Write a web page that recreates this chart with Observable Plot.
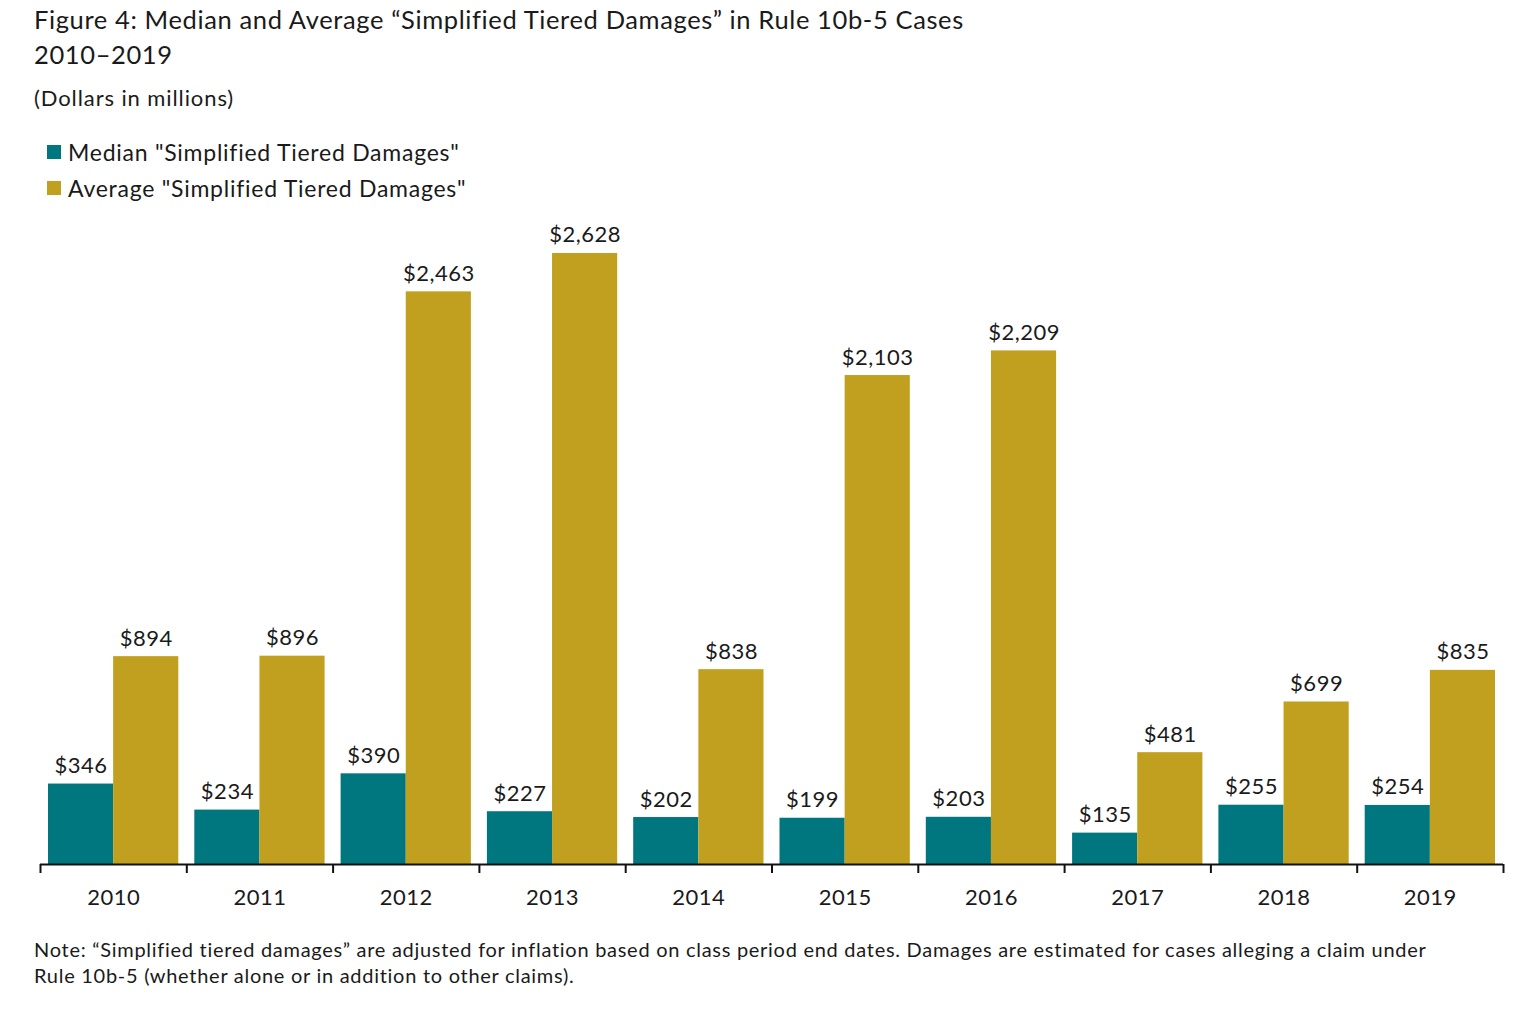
<!DOCTYPE html>
<html>
<head>
<meta charset="utf-8">
<script src="https://cdn.jsdelivr.net/npm/d3@7"></script>
<script src="https://cdn.jsdelivr.net/npm/@observablehq/plot@0.6"></script>
<style>
  body { margin: 0; background: #fff; font-family: Lato, "Open Sans", sans-serif; color: #1a1a1a; }
  #head { position: relative; height: 200px; }
  .title { position: absolute; left: 34px; top: 2px; font-size: 25.5px; letter-spacing: 0.62px; line-height: 35px; white-space: nowrap; }
  .sub { position: absolute; left: 34px; top: 84px; font-size: 22px; letter-spacing: 0.9px; line-height: 28px; }
  .legend { position: absolute; left: 47px; top: 134px; font-size: 23px; letter-spacing: 0.75px; line-height: 36px; }
  .legend .item { display: flex; align-items: center; white-space: nowrap; }
  .legend .sw { width: 14px; height: 14px; margin-right: 7px; display: inline-block; }
  .note { margin: 21px 0 0 34px; font-size: 20px; letter-spacing: 0.72px; line-height: 26px; width: 1480px; white-space: nowrap; }
  #chart svg { display: block; }
</style>
</head>
<body>
<div id="head">
  <div class="title">Figure 4: Median and Average “Simplified Tiered Damages” in Rule 10b-5 Cases<br>2010–2019</div>
  <div class="sub">(Dollars in millions)</div>
  <div class="legend" id="legend"></div>
</div>
<div id="chart"></div>
<div class="note">Note: “Simplified tiered damages” are adjusted for inflation based on class period end dates. Damages are estimated for cases alleging a claim under<br>Rule 10b-5 (whether alone or in addition to other claims).</div>
<script>
const years = [2010, 2011, 2012, 2013, 2014, 2015, 2016, 2017, 2018, 2019];
const medianValues = [346, 234, 390, 227, 202, 199, 203, 135, 255, 254];
const averageValues = [894, 896, 2463, 2628, 838, 2103, 2209, 481, 699, 835];
const seriesNames = ['Median "Simplified Tiered Damages"', 'Average "Simplified Tiered Damages"'];
const seriesColors = ["#00767e", "#c1a020"];

const medianRows = years.map((year, i) => ({year, value: medianValues[i]}));
const averageRows = years.map((year, i) => ({year, value: averageValues[i]}));
const boundaries = years.map(y => y - 0.5).concat([years[years.length - 1] + 0.5]);
const fmt = v => "$" + d3.format(",")(v);

// legend
const legend = document.getElementById("legend");
seriesNames.forEach((name, i) => {
  const item = document.createElement("div");
  item.className = "item";
  const sw = document.createElement("span");
  sw.className = "sw";
  sw.style.background = seriesColors[i];
  item.appendChild(sw);
  item.appendChild(document.createTextNode(name));
  legend.appendChild(item);
});

const chart = Plot.plot({
  width: 1536,
  height: 715,
  marginLeft: 40,
  marginRight: 33,
  marginTop: 13,
  marginBottom: 51,
  style: {fontFamily: "Lato, sans-serif", fontSize: "22px", letterSpacing: "0.5px", color: "#1a1a1a", background: "#fff"},
  x: {type: "linear", domain: [years[0] - 0.5, years[years.length - 1] + 0.5], axis: null},
  y: {domain: [0, 2800], axis: null},
  marks: [
    Plot.rectY(medianRows, {x1: d => d.year - 0.5, x2: d => d.year, y: "value", fill: seriesColors[0], insetLeft: 8}),
    Plot.rectY(averageRows, {x1: d => d.year, x2: d => d.year + 0.5, y: "value", fill: seriesColors[1], insetRight: 8}),
    Plot.text(medianRows, {x: d => d.year - 0.25, y: "value", text: d => fmt(d.value), dx: 4, dy: -11, lineAnchor: "bottom", fill: "#1a1a1a"}),
    Plot.text(averageRows, {x: d => d.year + 0.25, y: "value", text: d => fmt(d.value), dx: -4, dy: -11, lineAnchor: "bottom", fill: "#1a1a1a"}),
    Plot.ruleY([0], {stroke: "#111", strokeWidth: 2}),
    Plot.axisX({ticks: boundaries, tickSize: 9, tickFormat: () => "", strokeWidth: 2, stroke: "#111", label: null}),
    Plot.axisX({ticks: years, tickSize: 0, tickPadding: 25, tickFormat: d => String(d), label: null, fill: "#1a1a1a"})
  ]
});
document.getElementById("chart").appendChild(chart);
</script>
</body>
</html>
